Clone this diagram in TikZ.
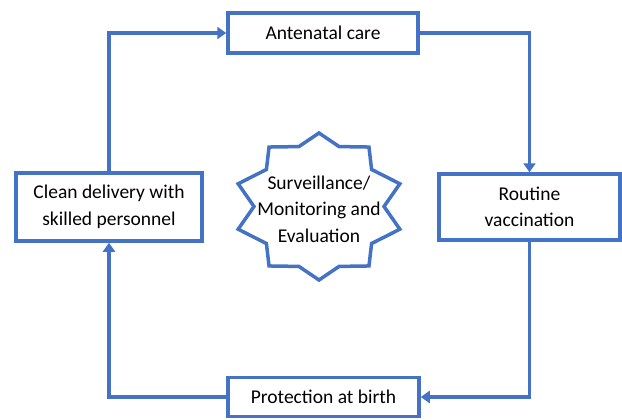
\documentclass[tikz,border=0pt]{standalone}
\usepackage{fontspec}
\setmainfont{Carlito}
\usetikzlibrary{arrows.meta,calc}
\definecolor{pblue}{HTML}{4472C4}
\tikzset{
  box/.style={draw=pblue, line width=3.5pt, fill=white, align=center, inner sep=0pt,
              font=\fontsize{19.5}{26.5}\selectfont},
  conn/.style={draw=pblue, line width=3.5pt, -{Triangle[width=12pt,length=9pt]}},
  starline/.style={draw=pblue, line width=3.5pt, line join=miter}
}
\begin{document}
\begin{tikzpicture}[x=1pt,y=-1pt]
\useasboundingbox (0,0) rectangle (622,420);
\node[box, minimum width=190pt, minimum height=40pt] (ante) at (323,33) {Antenatal care};
\node[box, minimum width=181pt, minimum height=66pt] (rout) at (529.5,207) {Routine\\vaccination};
\node[box, minimum width=191pt, minimum height=39pt] (prot) at (323.5,397) {Protection at birth};
\node[box, minimum width=186pt, minimum height=68pt] (clean) at (109,207) {Clean delivery with\\skilled personnel};
\coordinate (sc) at (319,206.5);
\draw[starline] ($(sc)+(0,-73.5)$)
  \foreach \i [evaluate=\i as \rx using {mod(\i,2)==0 ? 85 : 65},
               evaluate=\i as \ry using {mod(\i,2)==0 ? 73.5 : 63}] in {1,...,19}
  { -- ($(sc)+({\rx*cos(90+18*\i)},{-\ry*sin(90+18*\i)})$) } -- cycle;
\node[align=center, font=\fontsize{19.5}{26.5}\selectfont] (star) at (319,209) {Surveillance/\\Monitoring and\\Evaluation};
\draw[conn] (clean.north) |- (ante.west);
\draw[conn] (ante.east) -| (rout.north);
\draw[conn] (rout.south) |- (prot.east);
\draw[conn] (prot.west) -| (clean.south);
\end{tikzpicture}
\end{document}
